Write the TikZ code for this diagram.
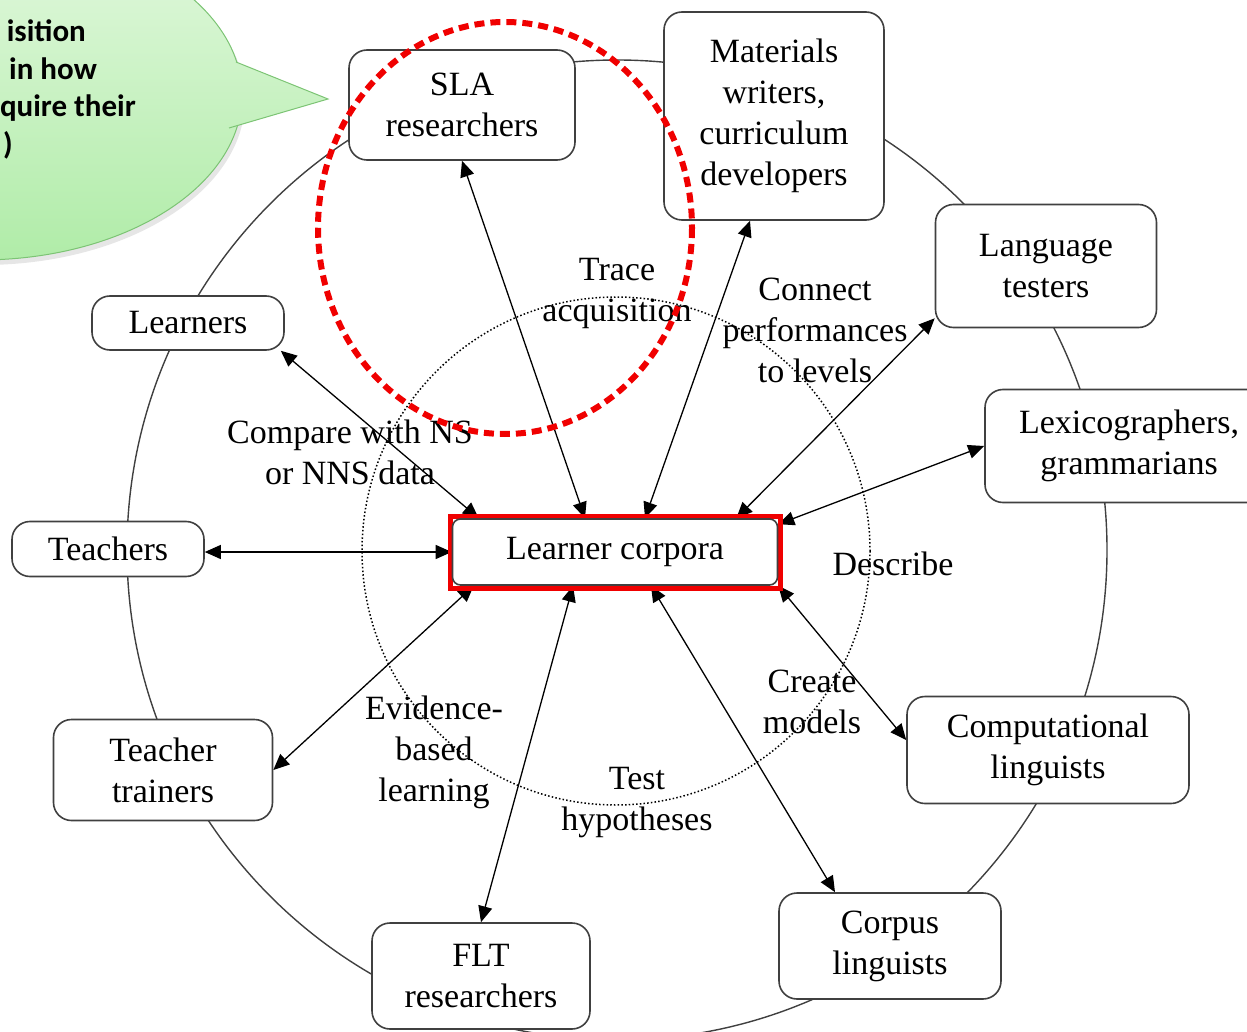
\documentclass[tikz,border=0pt]{standalone}
\usepackage{fontspec}
\setmainfont{Liberation Serif}
\newfontfamily\calloutfont{Carlito}
\usetikzlibrary{arrows.meta,shadows}
\pgfdeclarelayer{back}
\pgfsetlayers{back,main}
\definecolor{boxline}{HTML}{404040}
\definecolor{bubbletop}{HTML}{E2F8DE}
\definecolor{bubblebot}{HTML}{B0ECA8}
\definecolor{bubbleline}{HTML}{7CC474}
\definecolor{markred}{HTML}{F00000}
\tikzset{x=1pt, y=-1pt, % one unit is one pixel of the page, y runs downwards
  group/.style={ % a box for one group of corpus users
    draw=boxline, line width=1.6pt, rounded corners=18pt, fill=white,
    align=center, inner sep=0pt, font=\fontsize{34}{41}\selectfont},
  task/.style={ % what a group does with the corpora
    align=center, inner sep=0pt, font=\fontsize{34}{41}\selectfont},
  link/.style={
    draw, line width=1.3pt,
    {Triangle[length=16pt,width=14pt]}-{Triangle[length=16pt,width=14pt]}},
  bubble text/.style={
    anchor=base east, inner sep=0pt,
    font=\calloutfont\bfseries\fontsize{31}{38}\selectfont}}

\begin{document}
\begin{tikzpicture}
    \useasboundingbox (0,0) rectangle (1247,1032);
    % centre
    \node[draw=markred, line width=5pt, fill=white, minimum width=330pt, minimum height=72pt,
      drop shadow={shadow xshift=3pt, shadow yshift=-3pt, opacity=.35}] (hl) at (615,552) {};
    \node[group, rounded corners=8pt, minimum width=325pt, minimum height=66pt] (lc) at (615,552) {Learner corpora};
    % users round the circle
    \node[group, minimum width=226pt, minimum height=110pt] (sla) at (462,105) {SLA\\researchers};
    \node[group, minimum width=220pt, minimum height=208pt] (mat) at (774,116) {Materials\\writers,\\curriculum\\developers};
    \node[group, minimum width=221pt, minimum height=123pt] (lt) at (1046,266) {Language\\testers};
    \node[group, minimum width=288pt, minimum height=113pt] (lex) at (1129,446) {Lexicographers,\\grammarians};
    \node[group, minimum width=192pt, minimum height=54pt] (lrn) at (188,323) {Learners};
    \node[group, minimum width=192pt, minimum height=55pt] (tch) at (108,549) {Teachers};
    \node[group, minimum width=219pt, minimum height=101pt] (tt) at (163,770) {Teacher\\trainers};
    \node[group, minimum width=218pt, minimum height=106pt] (flt) at (481,976) {FLT\\researchers};
    \node[group, minimum width=222pt, minimum height=106pt] (cl) at (890,946) {Corpus\\linguists};
    \node[group, minimum width=282pt, minimum height=107pt] (cmp) at (1048,750) {Computational\\linguists};
    \begin{pgfonlayer}{back}
      \draw[boxline, line width=1.4pt] (617,550) circle [radius=490];
      \draw[line width=1.5pt, dash pattern=on 1.5pt off 2.2pt] (616,551) circle [radius=254];
      \draw[link] ([xshift=-30pt]lc.north) -- (sla.south);
      \draw[link] ([xshift=30pt]lc.north) -- ([xshift=-24pt]mat.south);
      \draw[link] ([xshift=-42pt]lc.north east) -- ([yshift=10pt]lt.south west);
      \draw[link] ([yshift=-6pt]lc.north east) -- (lex.west);
      \draw[link] ([xshift=27pt]lc.north west) -- ([xshift=-4pt]lrn.south east);
      \draw[link] (lc.west) -- (tch.east |- lc.west);
      \draw[link] ([xshift=22pt]lc.south west) -- (tt.east);
      \draw[link] ([xshift=-42pt]lc.south) -- (flt.north);
      \draw[link] ([xshift=36pt]lc.south) -- ([xshift=-55pt]cl.north);
      \draw[link] (lc.south east) -- ([yshift=10pt]cmp.west);
    \end{pgfonlayer}
    % tasks on the links
    \node[task] (trace) at (617,293) {Trace\\acquisition};
    \node[task] (connect) at (815,330) {Connect\\performances\\to levels};
    \node[task] (compare) at (350,452) {Compare with NS\\or NNS data};
    \node[task] (describe) at (893,564) {Describe};
    \node[task] (create) at (812,702) {Create\\models};
    \node[task] (test) at (637,803) {Test\\hypotheses};
    \node[task] (evidence) at (434,752) {Evidence-\\based\\learning};
    % highlight
    \draw[markred, line width=6pt, dash pattern=on 10pt off 6pt] (505,228) ellipse [x radius=187, y radius=206];
    % callout
    \path[top color=bubbletop, bottom color=bubblebot,
      drop shadow={shadow xshift=3pt, shadow yshift=-5pt, opacity=.2}] (-20,95) ellipse [x radius=262, y radius=165];
    \draw[bubbleline, line width=1pt] (-20,95) ellipse [x radius=262, y radius=165];
    \path[top color=bubbletop!60!bubblebot, bottom color=bubbletop!40!bubblebot]
      (200,62) -- (236,62) -- (328,99) -- (229,128) -- (200,128) -- cycle;
    \draw[bubbleline, line width=1pt] (236,62) -- (328,99) -- (229,128);
    \node[bubble text] (acq) at (86,42) {isition};
    \node[bubble text] (how) at (97,80) {in how};
    \node[bubble text] (their) at (136,117) {quire their};
    \node[bubble text] (lang) at (13,155) {)};
\end{tikzpicture}
\end{document}
